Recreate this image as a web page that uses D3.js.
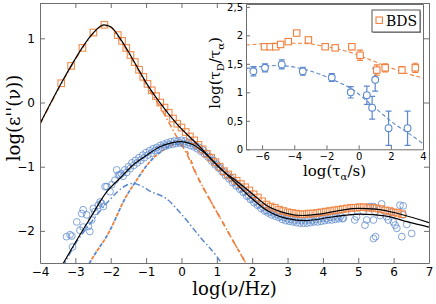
<!DOCTYPE html>
<html>
<head>
<meta charset="utf-8">
<script src="https://cdn.jsdelivr.net/npm/d3@7"></script>
<style>
body { margin: 0; background: #fff; }
svg { display: block; }
</style>
</head>
<body>
<svg id="chart" width="436" height="304"></svg>
<script>
// ---- main panel data: log(nu/Hz) vs log(eps'') ----
var xTicks = [-4, -3, -2, -1, 0, 1, 2, 3, 4, 5, 6, 7];
var yTicks = [-2, -1, 0, 1];

// BDS measurement (orange squares)
var bdsPoints = [[-3.40,0.30],[-3.12,0.57],[-2.80,0.85],[-2.49,1.09],[-2.18,1.21],[-1.80,1.05],[-1.68,0.96],[-1.56,0.85],[-1.44,0.74],[-1.32,0.63],[-1.20,0.51],[-1.08,0.40],[-0.96,0.29],[-0.84,0.19],[-0.72,0.10],[-0.60,0.00],[-0.48,-0.08],[-0.36,-0.16],[-0.24,-0.25],[-0.12,-0.33],[0.00,-0.39],[0.12,-0.46],[0.24,-0.53],[0.36,-0.59],[0.48,-0.66],[0.60,-0.73],[0.72,-0.80],[0.84,-0.86],[0.96,-0.93],[1.08,-1.00],[1.20,-1.07],[1.32,-1.12],[1.44,-1.17],[1.56,-1.22],[1.68,-1.27],[1.80,-1.32],[1.92,-1.37],[2.04,-1.43],[2.16,-1.48],[2.28,-1.54],[2.40,-1.59],[2.52,-1.62],[2.64,-1.64],[2.76,-1.67],[2.88,-1.69],[3.00,-1.71],[3.12,-1.72],[3.24,-1.73],[3.36,-1.74],[3.48,-1.74],[3.60,-1.73],[3.72,-1.73],[3.84,-1.72],[3.96,-1.71],[4.08,-1.70],[4.20,-1.69],[4.32,-1.68],[4.44,-1.67],[4.56,-1.66],[4.68,-1.65],[4.80,-1.64],[4.92,-1.64],[5.04,-1.63],[5.16,-1.63],[5.28,-1.64],[5.40,-1.64],[5.52,-1.65],[5.64,-1.66],[5.76,-1.68],[5.88,-1.69],[6.00,-1.71],[6.12,-1.72],[6.24,-1.74]];

// second sample (blue circles): low-frequency scatter, dense band, high-frequency scatter
var bluePoints = [[-3.25,-2.09],[-3.15,-2.06],[-3.08,-2.25],[-3.10,-2.08],[-2.96,-1.86],[-2.87,-1.99],[-2.82,-1.73],[-2.78,-1.67],[-2.78,-1.94],[-2.68,-1.75],[-2.63,-1.93],[-2.59,-2.01],[-2.54,-1.83],[-2.49,-1.65],[-2.45,-1.70],[-2.35,-1.60],[-2.30,-1.55],[-2.26,-1.57],[-2.21,-1.62],[-2.16,-1.31],[-2.11,-1.31],[-2.02,-1.39],[-1.97,-1.28],[-1.88,-1.21],[-1.83,-1.05],[-1.78,-1.13],[-1.74,-1.13],
[-1.70,-1.11],[-1.65,-1.15],[-1.60,-1.05],[-1.55,-1.09],[-1.50,-1.00],[-1.45,-1.03],[-1.40,-0.94],[-1.35,-0.98],[-1.30,-0.90],[-1.25,-0.94],[-1.20,-0.86],[-1.15,-0.90],[-1.10,-0.82],[-1.05,-0.86],[-1.00,-0.78],[-0.95,-0.82],[-0.90,-0.75],[-0.85,-0.79],[-0.80,-0.72],[-0.75,-0.75],[-0.70,-0.70],[-0.65,-0.73],[-0.60,-0.67],[-0.55,-0.70],[-0.50,-0.65],[-0.45,-0.68],[-0.40,-0.63],[-0.35,-0.66],[-0.30,-0.61],[-0.25,-0.65],[-0.20,-0.60],[-0.15,-0.64],[-0.10,-0.60],[-0.05,-0.63],[0.00,-0.59],[0.05,-0.64],[0.10,-0.60],[0.15,-0.65],[0.20,-0.62],[0.25,-0.67],[0.30,-0.63],[0.35,-0.69],[0.40,-0.67],[0.45,-0.72],[0.50,-0.70],[0.55,-0.76],[0.60,-0.74],[0.65,-0.80],[0.70,-0.79],[0.75,-0.85],[0.80,-0.85],[0.85,-0.91],[0.90,-0.90],[0.95,-0.97],[1.00,-0.96],[1.05,-1.02],[1.10,-1.02],[1.15,-1.08],[1.20,-1.08],[1.25,-1.14],[1.30,-1.13],[1.35,-1.19],[1.40,-1.18],[1.45,-1.25],[1.50,-1.24],[1.55,-1.30],[1.60,-1.29],[1.65,-1.35],[1.70,-1.34],[1.75,-1.40],[1.80,-1.39],[1.85,-1.46],[1.90,-1.45],[1.95,-1.51],[2.00,-1.50],[2.05,-1.56],[2.10,-1.54],[2.15,-1.60],[2.20,-1.59],[2.25,-1.65],[2.30,-1.63],[2.35,-1.69],[2.40,-1.68],[2.45,-1.72],[2.50,-1.70],[2.55,-1.75],[2.60,-1.72],[2.65,-1.77],[2.70,-1.74],[2.75,-1.79],[2.80,-1.77],[2.85,-1.82],[2.90,-1.79],[2.95,-1.84],[3.00,-1.81],[3.05,-1.85],[3.10,-1.82],[3.15,-1.86],[3.20,-1.83],[3.25,-1.87],[3.30,-1.83],[3.35,-1.88],[3.40,-1.84],[3.45,-1.88],[3.50,-1.84],[3.55,-1.88],[3.60,-1.83],[3.65,-1.87],[3.70,-1.83],[3.75,-1.86],[3.80,-1.82],[3.85,-1.86],[3.90,-1.81],[3.95,-1.85],[4.00,-1.80],[4.05,-1.84],[4.10,-1.80],[4.15,-1.83],[4.20,-1.79],[4.25,-1.83],[4.30,-1.78],[4.35,-1.82],[4.40,-1.78],[4.45,-1.81],[4.50,-1.77],[4.55,-1.81],
[4.58,-1.80],[4.81,-1.70],[4.90,-1.83],[4.95,-1.78],[5.14,-1.70],[5.19,-1.91],[5.24,-1.83],[5.33,-1.62],[5.43,-1.62],[5.43,-1.83],[5.43,-2.12],[5.47,-1.70],[5.49,-2.09],[5.62,-1.76],[5.66,-1.58],[5.80,-1.78],[5.85,-1.83],[5.94,-1.70],[5.99,-1.86],[6.04,-1.91],[6.09,-1.96],[6.18,-1.60],[6.23,-2.09],[6.27,-1.61],[6.27,-1.75],[6.37,-1.90],[6.51,-2.04]];

// fitted curves (black)
var fitBds = [[-4.0,-0.33],[-3.4,0.30],[-3.1,0.59],[-2.8,0.86],[-2.5,1.08],[-2.2,1.21],[-2.0,1.18],[-1.75,1.01],[-1.5,0.79],[-1.25,0.55],[-1.0,0.31],[-0.6,-0.01],[-0.15,-0.32],[0.5,-0.68],[1.2,-1.08],[1.5,-1.20],[2.0,-1.42],[2.4,-1.60],[3.0,-1.73],[3.4,-1.76],[3.9,-1.74],[4.5,-1.68],[5.0,-1.65],[5.5,-1.66],[6.2,-1.74],[7.0,-1.87]];
var fitBlue = [[-3.42,-2.58],[-3.0,-2.18],[-2.6,-1.82],[-2.11,-1.39],[-1.74,-1.18],[-1.36,-0.97],[-0.98,-0.82],[-0.61,-0.69],[-0.28,-0.63],[0.0,-0.61],[0.3,-0.65],[0.6,-0.76],[1.0,-0.97],[1.47,-1.22],[2.0,-1.50],[2.41,-1.68],[3.0,-1.81],[3.5,-1.84],[4.3,-1.78],[5.05,-1.74],[5.8,-1.77],[6.4,-1.86],[7.0,-1.94]];

// fit components
var alphaBds = [[-4.0,-0.34],[-3.4,0.29],[-3.1,0.58],[-2.8,0.85],[-2.5,1.07],[-2.2,1.20],[-2.0,1.17],[-1.75,0.99],[-1.5,0.77],[-1.25,0.53],[-1.0,0.28],[-0.6,-0.07],[-0.2,-0.47],[0.15,-0.80],[0.43,-1.13],[0.81,-1.52],[1.18,-1.88],[1.66,-2.35],[1.95,-2.62]];
var alphaBlue = [[-2.68,-2.58],[-2.6,-2.5],[-2.02,-1.99],[-1.6,-1.5],[-1.27,-1.21],[-0.89,-0.92],[-0.51,-0.74],[-0.13,-0.65],[0.02,-0.66],[0.15,-0.76],[0.43,-1.13],[0.81,-1.52],[1.18,-1.88],[1.66,-2.35],[1.95,-2.62]];
var slowBlue = [[-3.35,-2.56],[-3.0,-2.2],[-2.6,-1.9],[-2.0,-1.5],[-1.65,-1.32],[-1.38,-1.26],[-1.1,-1.31],[-0.89,-1.38],[-0.42,-1.5],[0.0,-1.74],[0.52,-2.09],[1.0,-2.40],[1.25,-2.6]];

// ---- inset data: log(tau_alpha/s) vs log(tau_D/tau_alpha) ----
var insetXTicks = [-6, -4, -2, 0, 2, 4];
var insetYTicks = [0, 0.5, 1, 1.5, 2, 2.5];
var insetBds = [[-5.85,1.80,0.03],[-5.5,1.80,0.03],[-5.15,1.80,0.03],[-4.85,1.84,0.04],[-4.37,1.89,0.03],[-3.85,2.04,0.03],[-3.12,1.92,0.04],[-2.08,1.80,0.04],[-1.46,1.78,0.04],[-0.42,1.80,0.05],[0.09,1.65,0.09],[1.13,1.39,0.09],[1.65,1.43,0.07],[2.69,1.39,0.06],[3.52,1.43,0.08]];
var insetBlue = [[-6.54,1.37,0.08],[-5.82,1.43,0.07],[-4.78,1.49,0.08],[-3.47,1.37,0.07],[-1.67,1.26,0.07],[-0.49,1.00,0.10],[0.51,0.95,0.16],[0.84,0.73,0.20],[1.03,1.22,0.20],[1.86,0.37,0.30],[3.04,0.37,0.30]];
var insetFitBds = [[-7,1.83],[-5,1.86],[-3.5,1.86],[-2,1.80],[-1,1.74],[0,1.65],[1,1.54],[2,1.43],[3,1.33],[4,1.25]];
var insetFitBlue = [[-7,1.42],[-5,1.47],[-3.2,1.39],[-1.57,1.22],[-0.33,1.04],[0.92,0.75],[2.17,0.46],[3.41,0.22],[4,0.10]];

var orange = "#f07f3c", blue = "#5b88cc", frameCol = "#6e6e6e";

var svg = d3.select("#chart");

// ================= main panel =================
var margin = { top: 3, left: 40, right: 7, bottom: 41 };
var width = 436 - margin.left - margin.right,
    height = 304 - margin.top - margin.bottom;

var xScale = d3.scaleLinear().domain([-4, 7]).range([0, width]);
var yScale = d3.scaleLinear().domain([-2.5, 1.55]).range([height, 0]);

var g = svg.append("g")
    .attr("transform", "translate(" + margin.left + "," + margin.top + ")");

g.append("clipPath").attr("id", "clipMain")
    .append("rect").attr("width", width).attr("height", height);

var line = d3.line()
    .x(function(d) { return xScale(d[0]); })
    .y(function(d) { return yScale(d[1]); })
    .curve(d3.curveMonotoneX);

var inner = g.append("g").attr("clip-path", "url(#clipMain)");

// components
inner.append("path").datum(slowBlue).attr("d", line)
    .attr("fill", "none").attr("stroke", blue).attr("stroke-width", 1.5)
    .attr("stroke-dasharray", "6,2.5,1.5,2.5");
inner.append("path").datum(alphaBlue.filter(function(d) { return d[0] <= 0.02; })).attr("d", line)
    .attr("fill", "none").attr("stroke", blue).attr("stroke-width", 1.8)
    .attr("stroke-dasharray", "4,6").attr("stroke-dashoffset", -5);
inner.append("path").datum(alphaBlue).attr("d", line)
    .attr("fill", "none").attr("stroke", orange).attr("stroke-width", 1.8)
    .attr("stroke-dasharray", "4,6");
inner.append("path").datum(alphaBds).attr("d", line)
    .attr("fill", "none").attr("stroke", orange).attr("stroke-width", 1.5)
    .attr("stroke-dasharray", "6,2.5,1.5,2.5");

// data
inner.append("g").selectAll("circle")
    .data(bluePoints).enter().append("circle")
    .attr("cx", function(d) { return xScale(d[0]); })
    .attr("cy", function(d) { return yScale(d[1]); })
    .attr("r", 3.4)
    .attr("fill", "none").attr("stroke", blue).attr("stroke-width", 0.9).attr("stroke-opacity", 0.85);

inner.append("g").selectAll("rect")
    .data(bdsPoints).enter().append("rect")
    .attr("x", function(d) { return xScale(d[0]) - 3.3; })
    .attr("y", function(d) { return yScale(d[1]) - 3.3; })
    .attr("width", 6.6).attr("height", 6.6)
    .attr("fill", "none").attr("stroke", orange).attr("stroke-width", 1.1).attr("stroke-opacity", 0.9);

// fits
[fitBds, fitBlue].forEach(function(f) {
    inner.append("path").datum(f).attr("d", line)
        .attr("fill", "none").attr("stroke", "#000").attr("stroke-width", 1.2);
});

// axes with inward ticks
function styleAxis(sel) {
    sel.selectAll("path, line").attr("stroke", frameCol);
    sel.selectAll("text").attr("fill", "#000").style("font-family", "DejaVu Sans").style("font-size", "12px");
}
g.append("g").attr("transform", "translate(0," + height + ")")
    .call(d3.axisBottom(xScale).tickValues(xTicks).tickSize(-5).tickSizeOuter(0).tickPadding(4).tickFormat(d3.format("d")))
    .call(styleAxis);
g.append("g")
    .call(d3.axisTop(xScale).tickValues(xTicks).tickSize(-5).tickSizeOuter(0).tickFormat(""))
    .call(styleAxis);
g.append("g")
    .call(d3.axisLeft(yScale).tickValues(yTicks).tickSize(-5).tickSizeOuter(0).tickPadding(5).tickFormat(d3.format("d")))
    .call(styleAxis);
g.append("g").attr("transform", "translate(" + width + ",0)")
    .call(d3.axisRight(yScale).tickValues(yTicks).tickSize(-5).tickSizeOuter(0).tickFormat(""))
    .call(styleAxis);

svg.append("text")
    .attr("x", margin.left + xScale(1.5)).attr("y", 295)
    .attr("text-anchor", "middle")
    .style("font-family", "DejaVu Serif").style("font-size", "18px")
    .text("log(ν/Hz)");

svg.append("text")
    .attr("transform", "translate(20,118) rotate(-90)")
    .attr("text-anchor", "middle")
    .style("font-family", "DejaVu Serif").style("font-size", "18px")
    .text("log(ε''(ν))");

// ================= inset =================
var inset = { left: 246, top: 4, width: 177, height: 145.3 };
var ix = d3.scaleLinear().domain([-7, 4]).range([0, inset.width]);
var iy = d3.scaleLinear().domain([0, 2.55]).range([inset.height, 0]);

var gi = svg.append("g")
    .attr("transform", "translate(" + inset.left + "," + inset.top + ")");

gi.append("rect").attr("width", inset.width).attr("height", inset.height)
    .attr("fill", "#fff");
gi.append("clipPath").attr("id", "clipInset")
    .append("rect").attr("width", inset.width).attr("height", inset.height);

var iline = d3.line()
    .x(function(d) { return ix(d[0]); })
    .y(function(d) { return iy(d[1]); })
    .curve(d3.curveMonotoneX);

var ginner = gi.append("g").attr("clip-path", "url(#clipInset)");

ginner.append("path").datum(insetFitBds).attr("d", iline)
    .attr("fill", "none").attr("stroke", orange).attr("stroke-width", 1.1).attr("stroke-dasharray", "4,2.5");
ginner.append("path").datum(insetFitBlue).attr("d", iline)
    .attr("fill", "none").attr("stroke", blue).attr("stroke-width", 1.1).attr("stroke-dasharray", "4,2.5");

function errorBars(data, color) {
    var eb = ginner.append("g").attr("stroke", color).attr("stroke-width", 1.2);
    data.forEach(function(d) {
        var cx = ix(d[0]);
        eb.append("line").attr("x1", cx).attr("x2", cx)
            .attr("y1", iy(d[1] - d[2])).attr("y2", iy(d[1] + d[2]));
        [d[1] - d[2], d[1] + d[2]].forEach(function(v) {
            eb.append("line").attr("x1", cx - 3).attr("x2", cx + 3)
                .attr("y1", iy(v)).attr("y2", iy(v));
        });
    });
}
errorBars(insetBlue, blue);
errorBars(insetBds, orange);

ginner.append("g").selectAll("circle")
    .data(insetBlue).enter().append("circle")
    .attr("cx", function(d) { return ix(d[0]); })
    .attr("cy", function(d) { return iy(d[1]); })
    .attr("r", 3.4).attr("fill", "#fff").attr("stroke", blue).attr("stroke-width", 1.1);
ginner.append("g").selectAll("rect")
    .data(insetBds).enter().append("rect")
    .attr("x", function(d) { return ix(d[0]) - 3.2; })
    .attr("y", function(d) { return iy(d[1]) - 3.2; })
    .attr("width", 6.4).attr("height", 6.4)
    .attr("fill", "#fff").attr("stroke", orange).attr("stroke-width", 1.1);

function styleInsetAxis(sel) {
    sel.selectAll("path, line").attr("stroke", frameCol);
    sel.selectAll("text").attr("fill", "#000").style("font-family", "DejaVu Sans").style("font-size", "10px");
}
var commaFmt = function(d) { return String(d).replace(".", ","); };
gi.append("g").attr("transform", "translate(0," + inset.height + ")")
    .call(d3.axisBottom(ix).tickValues(insetXTicks).tickSize(-4).tickSizeOuter(0).tickPadding(4).tickFormat(d3.format("d")))
    .call(styleInsetAxis);
gi.append("g")
    .call(d3.axisLeft(iy).tickValues(insetYTicks).tickSize(-4).tickSizeOuter(0).tickPadding(3).tickFormat(commaFmt))
    .call(styleInsetAxis);
gi.append("g")
    .call(d3.axisTop(ix).tickValues([]).tickSizeOuter(0))
    .call(styleInsetAxis);
gi.append("g").attr("transform", "translate(" + inset.width + ",0)")
    .call(d3.axisRight(iy).tickValues([]).tickSizeOuter(0))
    .call(styleInsetAxis);

// legend
var lg = gi.append("g").attr("transform", "translate(" + (inset.width - 51) + ",6)");
lg.append("rect").attr("x", 1).attr("y", 1).attr("width", 48).attr("height", 22).attr("fill", "#999");
lg.append("rect").attr("width", 48).attr("height", 22).attr("fill", "#fff").attr("stroke", "#555");
lg.append("rect").attr("x", 4).attr("y", 7).attr("width", 6.4).attr("height", 6.4)
    .attr("fill", "none").attr("stroke", orange).attr("stroke-width", 1.1);
lg.append("text").attr("x", 14).attr("y", 16)
    .style("font-family", "DejaVu Serif").style("font-size", "14px").text("BDS");

// inset labels
var xl = svg.append("text")
    .attr("x", inset.left + ix(-1.5)).attr("y", 176)
    .attr("text-anchor", "middle")
    .style("font-family", "DejaVu Serif").style("font-size", "15px");
xl.append("tspan").text("log(τ");
xl.append("tspan").attr("dy", 4).style("font-size", "10px").text("α");
xl.append("tspan").attr("dy", -4).text("/s)");

var yl = svg.append("text")
    .attr("transform", "translate(220,73) rotate(-90)")
    .attr("text-anchor", "middle")
    .style("font-family", "DejaVu Serif").style("font-size", "15px");
yl.append("tspan").text("log(τ");
yl.append("tspan").attr("dy", 4).style("font-size", "10px").text("D");
yl.append("tspan").attr("dy", -4).text("/τ");
yl.append("tspan").attr("dy", 4).style("font-size", "10px").text("α");
yl.append("tspan").attr("dy", -4).text(")");
</script>
</body>
</html>
